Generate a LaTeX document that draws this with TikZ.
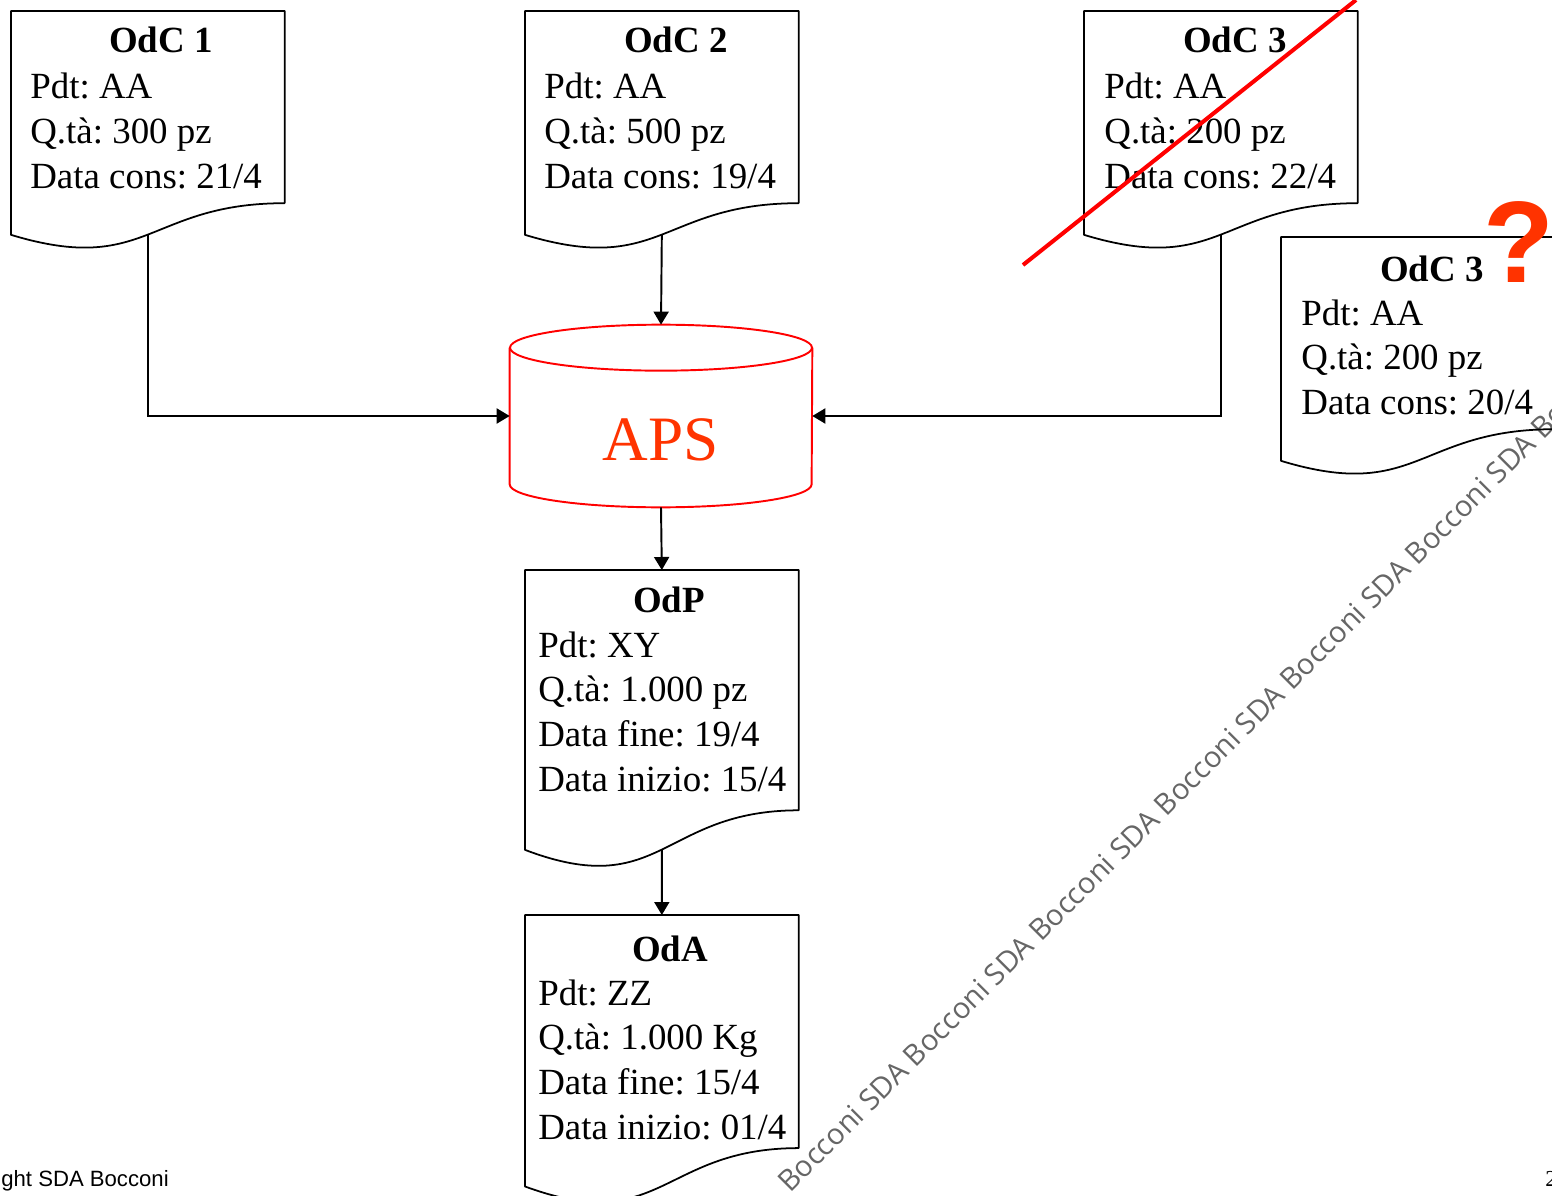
\documentclass[tikz,border=0pt]{standalone}
\usepackage{fontspec}
\setmainfont{Liberation Serif}
\newfontfamily\arialfont{Liberation Sans}
\newfontfamily\wmfont{Open Sans}
\usetikzlibrary{arrows.meta, calc, positioning}
\definecolor{apsred}{HTML}{FF3300}
\newcommand{\doclines}[1]{\begin{tabular}[t]{@{}l@{}}#1\end{tabular}}
\frenchspacing

\begin{document}
\begin{tikzpicture}[
    x=0.02cm, y=-0.02cm,
    doc/.style = {rectangle, anchor=north west, inner sep=0pt,
                  minimum width=5.46cm, minimum height=4.78cm},
    docline/.style = {black, line width=1pt, line join=round},
    ttl/.style = {anchor=base, inner sep=0pt, font=\fontsize{21}{25.6}\selectfont\bfseries},
    body/.style = {anchor=base west, inner sep=0pt, font=\fontsize{21}{25.6}\selectfont},
    tank/.style = {draw=red, line width=1.1pt},
    pil/.style = {black, line width=1.1pt, -{Triangle[length=0.26cm, width=0.3cm]}},
    wmark/.style = {anchor=base west, inner sep=0pt, rotate=45, black!60,
                    font=\wmfont\fontsize{16.6}{19}\selectfont},
    ]
  \useasboundingbox (0,0) rectangle (1552,1196);

  % watermark
  \node[wmark] (wm) at (790,1194)
    {Bocconi  SDA Bocconi  SDA Bocconi  SDA Bocconi  SDA Bocconi  SDA Bocconi  SDA Bo};

  % documents
  \node[doc] (odc1) at (11,11) {};
  \node[doc] (odc2) at (525,11) {};
  \node[doc] (odc3) at (1084,11) {};
  \node[doc] (odc3n) at (1281,237) {};
  \node[doc, minimum height=5.98cm] (odp) at (525,570) {};
  \node[doc, minimum height=5.8cm] (oda) at (525,915) {};

  \foreach \d in {odc1,odc2,odc3,odc3n,odp,oda}{
    \draw[docline] (\d.north west) -- (\d.north east)
      -- ($(\d.north east)!0.802!(\d.south east)$)
      .. controls ($(\d.north)!0.802!(\d.south)$) and ($(\d.north)!1.1075!(\d.south)$)
      .. ($(\d.north west)!0.934!(\d.south west)$) -- cycle;
    \coordinate (\d-out) at ($(\d.north)!0.933!(\d.south)$);
  }

  \node[ttl] (odc1-ttl) at (161,53) {OdC 1};
  \node[body] (odc1-txt) at (30,99) {\doclines{Pdt: AA\\Q.tà: 300 pz\\Data cons: 21/4}};
  \node[ttl] (odc2-ttl) at (676,53) {OdC 2};
  \node[body] (odc2-txt) at (544,99) {\doclines{Pdt: AA\\Q.tà: 500 pz\\Data cons: 19/4}};
  \node[ttl] (odc3-ttl) at (1235,53) {OdC 3};
  \node[body] (odc3-txt) at (1104,99) {\doclines{Pdt: AA\\Q.tà: 200 pz\\Data cons: 22/4}};
  \node[ttl] (odc3n-ttl) at (1432,281) {OdC 3};
  \node[body] (odc3n-txt) at (1301,325) {\doclines{Pdt: AA\\Q.tà: 200 pz\\Data cons: 20/4}};
  \node[ttl] (odp-ttl) at (669,612) {OdP};
  \node[body] (odp-txt) at (538,657) {\doclines{Pdt: XY\\Q.tà: 1.000 pz\\Data fine: 19/4\\Data inizio: 15/4}};
  \node[ttl] (oda-ttl) at (670,961) {OdA};
  \node[body] (oda-txt) at (538,1005) {\doclines{Pdt: ZZ\\Q.tà: 1.000 Kg\\Data fine: 15/4\\Data inizio: 01/4}};

  % APS archive
  \node[rectangle, inner sep=0pt, minimum width=6.04cm, minimum height=3.64cm] (aps) at (661,416) {};
  \draw[tank] ($(aps.north)+(0,23)$) ellipse [x radius=3.02cm, y radius=0.46cm];
  \draw[tank] ($(aps.north west)+(0,23)$) -- ($(aps.south west)+(0,-23)$)
    arc [start angle=180, end angle=360, x radius=3.02cm, y radius=0.46cm]
    -- ($(aps.north east)+(0,23)$);
  \node[apsred, font=\fontsize{36}{40}\selectfont] (aps-txt) at ($(aps.center)+(0,24)$) {APS};

  \draw[pil] (odc1-out) |- (aps.west);
  \draw[pil] (odc3-out) |- (aps.east);
  \draw[pil] (odc2-out) -- (aps.north);
  \draw[pil] (aps.south) -- (odp.north);
  \draw[pil] (odp-out) -- (oda.north);

  % cancelled order
  \draw[red, line width=2.3pt] (1023,265) -- (1356,0);
  \node[anchor=base, inner sep=0pt, apsred, font=\arialfont\bfseries\fontsize{66}{70}\selectfont] (qm) at (1519,283) {?};

  \node[anchor=base west, inner sep=0pt, font=\arialfont\fontsize{12.6}{14}\selectfont] (copy) at (1,1186) {ght SDA Bocconi};
  \node[anchor=base west, inner sep=0pt, font=\fontsize{13}{15}\selectfont] (pg) at (1545,1186) {2};
\end{tikzpicture}
\end{document}
